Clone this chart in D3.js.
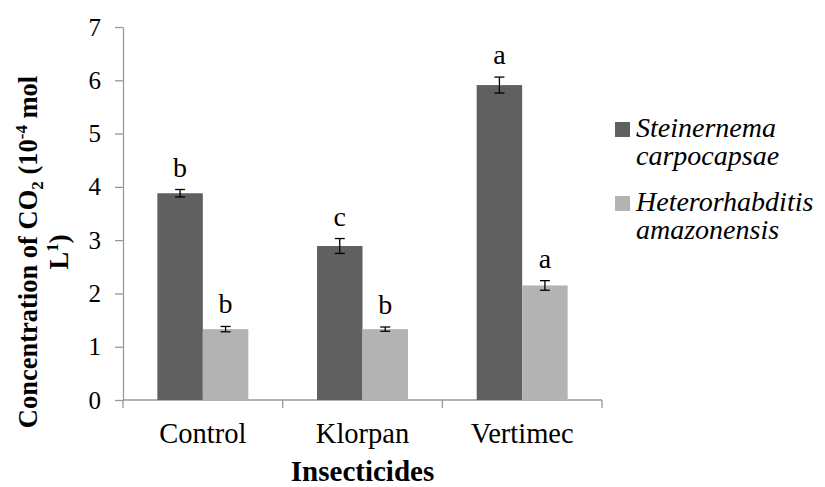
<!DOCTYPE html>
<meta charset="utf-8">
<script src="https://d3js.org/d3.v7.min.js"></script>
<style type="text/css">
body { margin: 0; background: #fff; }
.axis path, .axis line { stroke: #999; stroke-width: 1.3px; }
.errBar { stroke: #000; stroke-width: 1.3px; }
</style>
<body></body>
<script>

// data
var categories = ['Control', 'Klorpan', 'Vertimec'];
var seriesNames = ['Steinernema carpocapsae', 'Heterorhabditis amazonensis'];
var steinernema = [3.88, 2.89, 5.91];
var heterorhabditis = [1.33, 1.33, 2.15];
var steinernemaErr = [0.07, 0.14, 0.15];
var heterorhabditisErr = [0.05, 0.04, 0.09];
var steinernemaLetters = ['b', 'c', 'a'];
var heterorhabditisLetters = ['b', 'b', 'a'];
var yTicks = [0, 1, 2, 3, 4, 5, 6, 7];

var colors = ['#606060', '#b3b3b3'];
var serif = '"Liberation Serif", "Times New Roman", serif';

var width = 825, height = 487;
var plot = {left: 123, right: 602, top: 27, bottom: 400};

var svg = d3.select('body').append('svg')
    .attr('width', width)
    .attr('height', height);

// build rows for the bars
var rows = [];
categories.forEach(function(c, i) {
  rows.push({cat: c, series: seriesNames[0], value: steinernema[i], err: steinernemaErr[i], letter: steinernemaLetters[i]});
  rows.push({cat: c, series: seriesNames[1], value: heterorhabditis[i], err: heterorhabditisErr[i], letter: heterorhabditisLetters[i]});
});

var x0 = d3.scaleBand()
  .domain(categories)
  .range([plot.left, plot.right])
  .padding(0);

var x1 = d3.scaleBand()
  .domain(seriesNames)
  .range([0, x0.bandwidth()])
  .paddingInner(0)
  .paddingOuter(0.755);

var yScale = d3.scaleLinear()
  .domain([0, 7])
  .range([plot.bottom, plot.top]);

var color = d3.scaleOrdinal().domain(seriesNames).range(colors);

// y axis
var yAxisGroup = svg.append('g')
  .attr('class', 'y axis')
  .attr('transform', 'translate(' + plot.left + ',0)')
  .call(d3.axisLeft(yScale).tickValues(yTicks).tickFormat(d3.format('d'))
    .tickSize(8).tickSizeOuter(0).tickPadding(14));
yAxisGroup.selectAll('text')
  .style('font-family', serif)
  .style('font-size', '25px')
  .style('fill', '#000');

// x axis: labels centred, ticks at the category boundaries
var xAxisGroup = svg.append('g')
  .attr('class', 'x axis')
  .attr('transform', 'translate(0,' + plot.bottom + ')')
  .call(d3.axisBottom(x0).tickSize(0).tickPadding(23));
xAxisGroup.selectAll('.tick line').remove();
xAxisGroup.select('.domain').attr('d', 'M' + plot.left + ',0H' + plot.right);
xAxisGroup.selectAll('text')
  .style('font-family', serif)
  .style('font-size', '28.5px')
  .style('fill', '#000');

var bounds = categories.map(function(c) { return x0(c); }).concat([x0.range()[1]]);
xAxisGroup.selectAll('.sep')
  .data(bounds).enter().append('line')
  .attr('class', 'sep')
  .attr('x1', function(d) { return d; })
  .attr('x2', function(d) { return d; })
  .attr('y1', 0)
  .attr('y2', 8);

// bars
svg.append('g').selectAll('rect')
  .data(rows).enter().append('rect')
  .attr('x', function(d) { return x0(d.cat) + x1(d.series); })
  .attr('y', function(d) { return yScale(d.value); })
  .attr('width', x1.bandwidth())
  .attr('height', function(d) { return yScale(0) - yScale(d.value); })
  .style('fill', function(d) { return color(d.series); });

// error bars
var capW = 5;
var errGroup = svg.append('g').selectAll('g')
  .data(rows).enter().append('g');
errGroup.append('line')
  .attr('class', 'errBar')
  .attr('x1', function(d) { return x0(d.cat) + x1(d.series) + x1.bandwidth() / 2; })
  .attr('x2', function(d) { return x0(d.cat) + x1(d.series) + x1.bandwidth() / 2; })
  .attr('y1', function(d) { return yScale(d.value + d.err); })
  .attr('y2', function(d) { return yScale(d.value - d.err); });
[1, -1].forEach(function(s) {
  errGroup.append('line')
    .attr('class', 'errBar')
    .attr('x1', function(d) { return x0(d.cat) + x1(d.series) + x1.bandwidth() / 2 - capW; })
    .attr('x2', function(d) { return x0(d.cat) + x1(d.series) + x1.bandwidth() / 2 + capW; })
    .attr('y1', function(d) { return yScale(d.value + s * d.err); })
    .attr('y2', function(d) { return yScale(d.value + s * d.err); });
});

// significance letters
svg.append('g').selectAll('text')
  .data(rows).enter().append('text')
  .attr('text-anchor', 'middle')
  .attr('x', function(d) { return x0(d.cat) + x1(d.series) + x1.bandwidth() / 2; })
  .attr('y', function(d) { return yScale(d.value + d.err) - 13; })
  .style('font-family', serif)
  .style('font-size', '28px')
  .text(function(d) { return d.letter; });

// axis titles
svg.append('text')
  .attr('text-anchor', 'middle')
  .attr('x', (plot.left + plot.right) / 2)
  .attr('y', 481)
  .style('font-family', serif)
  .style('font-size', '29px')
  .style('font-weight', 'bold')
  .text('Insecticides');

var yTitle = svg.append('text')
  .attr('text-anchor', 'middle')
  .attr('transform', 'translate(37,252) rotate(-90)')
  .style('font-family', serif)
  .style('font-size', '26.5px')
  .style('font-weight', 'bold');
yTitle.append('tspan').text('Concentration of CO');
yTitle.append('tspan').style('font-size', '17px').attr('dy', 6).text('2');
yTitle.append('tspan').attr('dy', -6).text(' (10');
yTitle.append('tspan').style('font-size', '17px').attr('dy', -10).text('-4');
yTitle.append('tspan').attr('dy', 10).text(' mol');

var yTitle2 = svg.append('text')
  .attr('text-anchor', 'middle')
  .attr('transform', 'translate(68,252) rotate(-90)')
  .style('font-family', serif)
  .style('font-size', '26.5px')
  .style('font-weight', 'bold');
yTitle2.append('tspan').text('L');
yTitle2.append('tspan').style('font-size', '17px').attr('dy', -10).text('1');
yTitle2.append('tspan').attr('dy', 10).text(')');

// legend
var legendLines = [['Steinernema', 'carpocapsae'], ['Heterorhabditis', 'amazonensis']];
var legend = svg.append('g')
  .selectAll('g')
  .data(seriesNames).enter().append('g')
  .attr('transform', function(d, i) { return 'translate(615,' + (122 + i * 74) + ')'; });
legend.append('rect')
  .attr('width', 15)
  .attr('height', 15)
  .style('fill', function(d) { return color(d); });
[0, 1].forEach(function(k) {
  legend.append('text')
    .attr('x', 21)
    .attr('y', 15 + k * 28)
    .style('font-family', serif)
    .style('font-size', '28px')
    .style('font-style', 'italic')
    .text(function(d, i) { return legendLines[i][k]; });
});

</script>
